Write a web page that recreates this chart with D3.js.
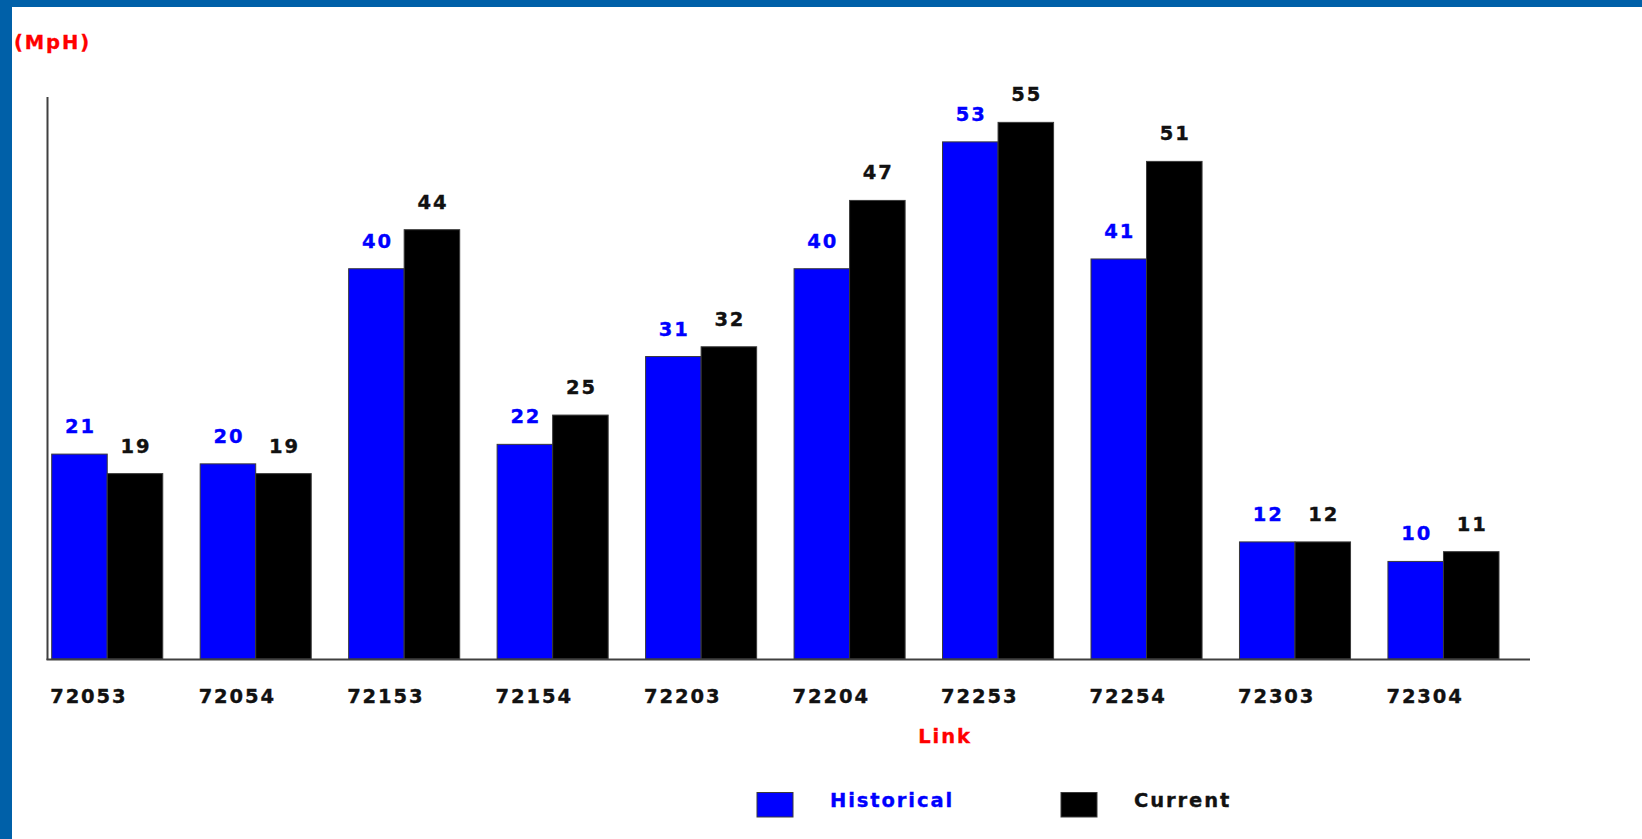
<!DOCTYPE html>
<html>
<head>
<meta charset="utf-8">
<script src="https://cdn.jsdelivr.net/npm/d3@7"></script>
<style>
  html, body { margin: 0; padding: 0; background: #ffffff; overflow: hidden; }
  svg { display: block; }
  text { font-family: "DejaVu Sans", sans-serif; font-weight: bold; font-size: 19.5px; letter-spacing: 1.9px; stroke-width: 0.35px; }
</style>
</head>
<body>
<svg id="chart" width="1642" height="839"></svg>
<script>
// Link speeds (MpH): historical vs. current
const links = ["72053", "72054", "72153", "72154", "72203", "72204", "72253", "72254", "72303", "72304"];
const historical = [21, 20, 40, 22, 31, 40, 53, 41, 12, 10];
const current = [19, 19, 44, 25, 32, 47, 55, 51, 12, 11];
const seriesNames = ["Historical", "Current"];
const seriesColors = ["#0000ff", "#000000"];
const labelColors = ["#0000ff", "#111111"];

const W = 1642, H = 839;
const svg = d3.select("#chart");

// page frame
svg.append("rect").attr("x", 0).attr("y", 0).attr("width", W).attr("height", H).attr("fill", "#ffffff");
svg.append("rect").attr("x", 0).attr("y", 0).attr("width", W).attr("height", 7).attr("fill", "#0060a8");
svg.append("rect").attr("x", 0).attr("y", 0).attr("width", 12).attr("height", H).attr("fill", "#0060a8");

const plot = { left: 47.5, right: 1530, top: 97, bottom: 659 };

const x0 = d3.scaleBand()
  .domain(links)
  .range([51.7, 1499])
  .paddingInner(0.252)
  .paddingOuter(0);

const x1 = d3.scaleBand()
  .domain(seriesNames)
  .range([0, x0.bandwidth()])
  .padding(0);

const y = d3.scaleLinear()
  .domain([0, 57.6])
  .range([plot.bottom, plot.top]);

const rows = links.map((k, i) => ({ link: k, values: [historical[i], current[i]] }));

const groups = svg.append("g").selectAll("g")
  .data(rows)
  .join("g")
  .attr("transform", d => `translate(${x0(d.link)},0)`);

groups.selectAll("rect")
  .data(d => d.values.map((v, j) => ({ name: seriesNames[j], v, j })))
  .join("rect")
  .attr("x", d => x1(d.name))
  .attr("y", d => y(d.v))
  .attr("width", x1.bandwidth())
  .attr("height", d => y(0) - y(d.v))
  .attr("fill", d => seriesColors[d.j])
  .attr("stroke", "#3a3a3a")
  .attr("stroke-width", 1);

groups.selectAll("text.val")
  .data(d => d.values.map((v, j) => ({ name: seriesNames[j], v, j })))
  .join("text")
  .attr("class", "val")
  .attr("x", d => x1(d.name) + x1.bandwidth() / 2 + 1)
  .attr("y", d => y(d.v) - 21)
  .attr("text-anchor", "middle")
  .attr("fill", d => labelColors[d.j])
  .attr("stroke", d => labelColors[d.j])
  .text(d => d.v);

// category labels
svg.append("g").selectAll("text")
  .data(links)
  .join("text")
  .attr("x", d => x0(d) - 1.5)
  .attr("y", 703)
  .attr("fill", "#111111")
  .attr("stroke", "#111111")
  .text(d => d);

// axes lines
svg.append("line")
  .attr("x1", plot.left).attr("x2", plot.left)
  .attr("y1", plot.top).attr("y2", plot.bottom + 1)
  .attr("stroke", "#404040").attr("stroke-width", 2);
svg.append("line")
  .attr("x1", plot.left - 1).attr("x2", plot.right)
  .attr("y1", plot.bottom + 0.5).attr("y2", plot.bottom + 0.5)
  .attr("stroke", "#404040").attr("stroke-width", 2);

// axis titles
svg.append("text").attr("x", 14).attr("y", 49).attr("fill", "#ff0000").attr("stroke", "#ff0000").text("(MpH)");
svg.append("text").attr("x", 945).attr("y", 743).attr("text-anchor", "middle").attr("fill", "#ff0000").attr("stroke", "#ff0000").text("Link");

// legend
const legendItems = [
  { name: "Historical", box: 757, text: 830, color: seriesColors[0], textColor: "#0000ff" },
  { name: "Current", box: 1061, text: 1134, color: seriesColors[1], textColor: "#111111" }
];
const lg = svg.append("g").selectAll("g").data(legendItems).join("g");
lg.append("rect")
  .attr("x", d => d.box).attr("y", 792.5)
  .attr("width", 36).attr("height", 24.5)
  .attr("fill", d => d.color)
  .attr("stroke", "#3a3a3a").attr("stroke-width", 1);
lg.append("text")
  .attr("x", d => d.text).attr("y", 807)
  .attr("fill", d => d.textColor)
  .attr("stroke", d => d.textColor)
  .text(d => d.name);
</script>
</body>
</html>
